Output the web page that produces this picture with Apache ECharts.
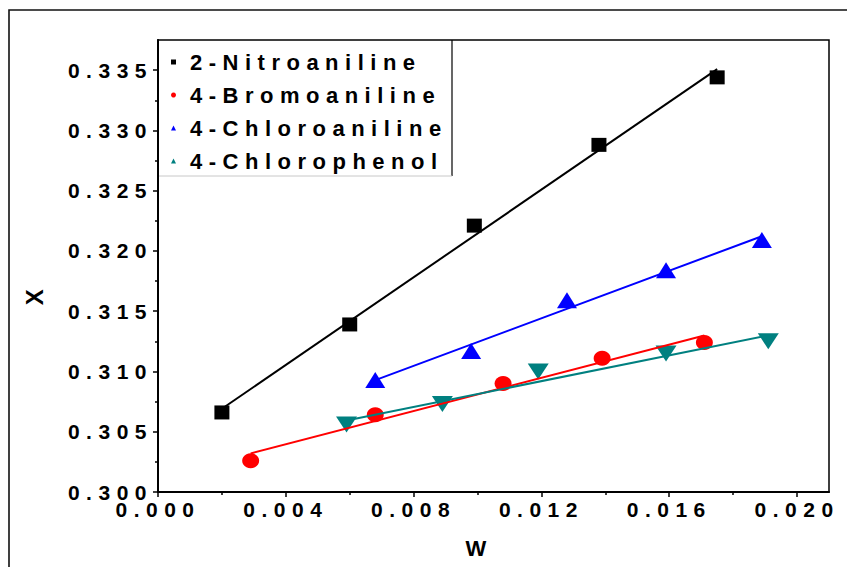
<!DOCTYPE html>
<html>
<head>
<meta charset="utf-8">
<script src="https://cdn.jsdelivr.net/npm/echarts@6/dist/echarts.min.js"></script>
<style>
  html, body { margin: 0; padding: 0; background: #fff; }
  #chart { width: 847px; height: 567px; }
  #chart text { letter-spacing: 6.5px; }
</style>
</head>
<body>
<div id="chart"></div>
<script>
// Data
const seriesNames = ['2-Nitroaniline', '4-Bromoaniline', '4-Chloroaniline', '4-Chlorophenol'];
const nitroW    = [0.0020, 0.0060, 0.0099, 0.0138, 0.0175];
const nitroX    = [0.3066, 0.3139, 0.3221, 0.3288, 0.3344];
const bromoW    = [0.0029, 0.0068, 0.0108, 0.0139, 0.0171];
const bromoX    = [0.3026, 0.3064, 0.3090, 0.3111, 0.3124];
const chloroanW = [0.0068, 0.0098, 0.0128, 0.0159, 0.0189];
const chloroanX = [0.3093, 0.3117, 0.3159, 0.3184, 0.3209];
const chlorophW = [0.0059, 0.0089, 0.0119, 0.0159, 0.0191];
const chlorophX = [0.3056, 0.3073, 0.3100, 0.3115, 0.3125];

const xMajorTicks = [0, 0.004, 0.008, 0.012, 0.016, 0.020];
const xMinorTicks = [0.002, 0.006, 0.010, 0.014, 0.018];
const yMajorTicks = [0.300, 0.305, 0.310, 0.315, 0.320, 0.325, 0.330, 0.335];
const yMinorTicks = [0.3025, 0.3075, 0.3125, 0.3175, 0.3225, 0.3275, 0.3325];

const colors = ['#000000', '#ff0000', '#0000ff', '#008080'];
const symbols = ['rect', 'circle', 'triangle', 'triangle'];
const symbolRotates = [0, 0, 0, 180];
const symbolSizes = [[15, 14], [17, 15], [20, 16], [21, 16]];

const allW = [nitroW, bromoW, chloroanW, chlorophW];
const allX = [nitroX, bromoX, chloroanX, chlorophX];

function fitLine(xs, ys) {
  const n = xs.length;
  const mx = xs.reduce((a, b) => a + b, 0) / n;
  const my = ys.reduce((a, b) => a + b, 0) / n;
  let sxy = 0, sxx = 0;
  for (let i = 0; i < n; i++) { sxy += (xs[i] - mx) * (ys[i] - my); sxx += (xs[i] - mx) * (xs[i] - mx); }
  const b = sxy / sxx, a = my - b * mx;
  const x0 = Math.min(...xs), x1 = Math.max(...xs);
  return [[x0, a + b * x0], [x1, a + b * x1]];
}

const FONT = 'Liberation Sans, Arial, sans-serif';
const series = [];
seriesNames.forEach((name, i) => {
  series.push({
    name: 'fit ' + name, type: 'line', data: fitLine(allW[i], allX[i]),
    showSymbol: false, symbol: 'none', silent: true,
    lineStyle: { color: colors[i], width: 2 }, z: 3
  });
});
seriesNames.forEach((name, i) => {
  series.push({
    name: name, type: 'scatter',
    data: allW[i].map((w, j) => [w, allX[i][j]]),
    symbol: symbols[i], symbolRotate: symbolRotates[i], symbolSize: symbolSizes[i],
    itemStyle: { color: colors[i], opacity: 1 }, z: 2
  });
});

const chart = echarts.init(document.getElementById('chart'), null, { renderer: 'svg' });
chart.setOption({
  animation: false,
  backgroundColor: '#ffffff',
  grid: { left: 158, top: 40, right: 18, bottom: 75, show: true, borderColor: '#000', borderWidth: 1.5, backgroundColor: 'transparent' },
  legend: {
    data: seriesNames, orient: 'vertical', left: 171, top: 51,
    itemWidth: 5, itemHeight: 5, itemGap: 11, padding: 0,
    textStyle: { fontSize: 22, fontWeight: 'bold', color: '#000', fontFamily: FONT, padding: [0, 0, 8, 9] }
  },
  xAxis: [
    {
      type: 'value', min: 0, max: 0.021, position: 'bottom',
      axisLine: { lineStyle: { color: '#000', width: 2 } },
      axisTick: { customValues: xMajorTicks, length: 5, lineStyle: { color: '#000', width: 1.5 } },
      axisLabel: { customValues: xMajorTicks, formatter: v => v.toFixed(3), fontSize: 21, fontWeight: 'bold', color: '#000', fontFamily: FONT, margin: 7 },
      splitLine: { show: false }
    },
    {
      type: 'value', min: 0, max: 0.021, position: 'bottom',
      axisLine: { show: false },
      axisTick: { customValues: xMinorTicks, length: 3, lineStyle: { color: '#000', width: 1.5 } },
      axisLabel: { show: false }, splitLine: { show: false }
    }
  ],
  yAxis: [
    {
      type: 'value', min: 0.3, max: 0.3375, position: 'left',
      axisLine: { lineStyle: { color: '#000', width: 2 } },
      axisTick: { customValues: yMajorTicks, length: 5, lineStyle: { color: '#000', width: 1.5 } },
      axisLabel: { customValues: yMajorTicks, formatter: v => v.toFixed(3), fontSize: 21, fontWeight: 'bold', color: '#000', fontFamily: FONT, margin: 5 },
      splitLine: { show: false }
    },
    {
      type: 'value', min: 0.3, max: 0.3375, position: 'left',
      axisLine: { show: false },
      axisTick: { customValues: yMinorTicks, length: 3, lineStyle: { color: '#000', width: 1.5 } },
      axisLabel: { show: false }, splitLine: { show: false }
    }
  ],
  graphic: [
    { type: 'polyline', shape: { points: [[9, 567], [9, 10], [847, 10]] }, style: { stroke: '#111', lineWidth: 1.6, fill: null }, silent: true },
    { type: 'line', shape: { x1: 452, y1: 40, x2: 452, y2: 176 }, style: { stroke: '#000', lineWidth: 1.2 }, silent: true },
    { type: 'line', shape: { x1: 158, y1: 176, x2: 452, y2: 176 }, style: { stroke: '#c8c8c8', lineWidth: 1 }, silent: true },
    { type: 'text', x: 34, y: 294, rotation: Math.PI / 2, style: { text: 'X', font: 'bold 24px ' + FONT, fill: '#000', textAlign: 'center', textVerticalAlign: 'middle' } },
    { type: 'text', x: 479, y: 548, style: { text: 'W', font: 'bold 22px ' + FONT, fill: '#000', textAlign: 'center', textVerticalAlign: 'middle' } }
  ],
  series: series
});
</script>
</body>
</html>
